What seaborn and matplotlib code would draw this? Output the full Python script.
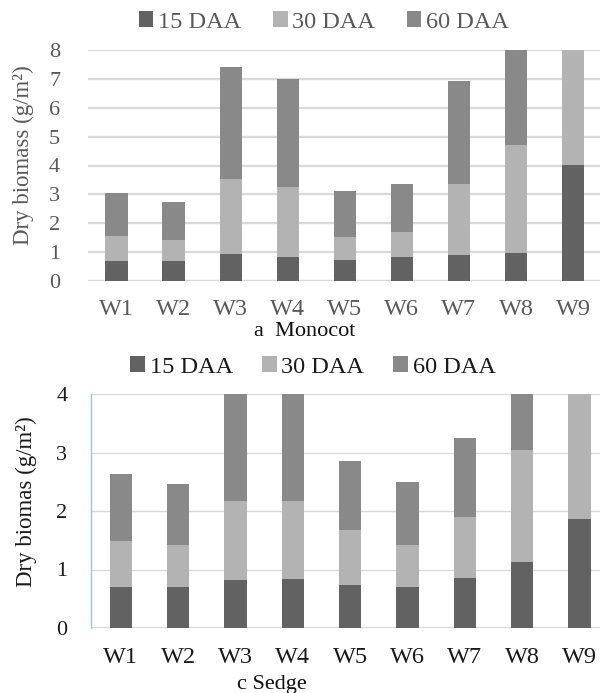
import numpy as np
import pandas as pd
import seaborn as sns
import matplotlib.pyplot as plt
from matplotlib.patches import Patch

# du lieu doc tu hinh
weeds = ["W1", "W2", "W3", "W4", "W5", "W6", "W7", "W8", "W9"]
stages = ["15 DAA", "30 DAA", "60 DAA"]

mono_15 = [0.70, 0.70, 0.92, 0.83, 0.74, 0.83, 0.89, 0.98, 4.03]
mono_30 = [0.85, 0.71, 2.61, 2.42, 0.77, 0.87, 2.48, 3.74, 4.40]
mono_60 = [1.50, 1.31, 3.87, 3.73, 1.59, 1.65, 3.56, 3.60, 1.50]

sedge_15 = [0.70, 0.70, 0.82, 0.84, 0.73, 0.70, 0.86, 1.13, 1.87]
sedge_30 = [0.78, 0.72, 1.35, 1.33, 0.94, 0.72, 1.03, 1.92, 2.40]
sedge_60 = [1.16, 1.05, 2.10, 2.00, 1.19, 1.07, 1.36, 1.10, 0.90]

colors = {"15 DAA": "#626262", "30 DAA": "#b3b3b3", "60 DAA": "#898989"}

sns.set_style("white")
plt.rcParams['font.family'] = ['Liberation Serif', 'DejaVu Serif']

fig = plt.figure(figsize=(6, 6.93), dpi=100)
W, H = 600, 693


def stacked(ax, v15, v30, v60):
    df = pd.DataFrame({"weed": weeds, "15 DAA": v15, "30 DAA": v30, "60 DAA": v60})
    df["c1"] = df["15 DAA"]
    df["c2"] = df["c1"] + df["30 DAA"]
    df["c3"] = df["c2"] + df["60 DAA"]
    # ve tu cot cao nhat xuong
    for col, st in [("c3", "60 DAA"), ("c2", "30 DAA"), ("c1", "15 DAA")]:
        sns.barplot(data=df, x="weed", y=col, color=colors[st], saturation=1,
                    width=0.39, ax=ax, linewidth=0)
    ax.set_xlabel("")


# 1. Monocot
ax1 = fig.add_axes([88 / W, (H - 281) / H, 512 / W, 231 / H])
stacked(ax1, mono_15, mono_30, mono_60)
ax1.set_ylim(0, 8)
ax1.set_xlim(-0.5, 8.47)
ax1.set_yticks(range(0, 9))
for y in range(0, 9):
    ax1.axhline(y, color="#d9d9d9", lw=1.6, zorder=0)
sns.despine(ax=ax1, left=True, bottom=True, top=True, right=True)
ax1.tick_params(axis="y", length=0, pad=20, labelsize=16, labelcolor="#595959")
ax1.tick_params(axis="x", length=0, pad=13, labelsize=17.5, labelcolor="#595959")
ax1.set_ylabel("Dry biomass (g/m²)", fontsize=16.5, color="#595959")
ax1.yaxis.set_label_coords(-54 / 512, (281 - 155) / 231)

# 2. Sedge
ax2 = fig.add_axes([91 / W, (H - 628) / H, 509 / W, 234 / H])
stacked(ax2, sedge_15, sedge_30, sedge_60)
ax2.set_ylim(0, 4)
ax2.set_xlim(-0.52, 8.36)
ax2.set_yticks(range(0, 5))
for y in range(1, 5):
    ax2.axhline(y, color="#d9d9d9", lw=1.0, zorder=0)
ax2.axhline(0, color="#d9d9d9", lw=1.6, zorder=0)
sns.despine(ax=ax2, left=False, bottom=True, top=True, right=True)
ax2.spines["left"].set_color("#9fc3e4")
ax2.spines["left"].set_linewidth(1.0)
ax2.tick_params(axis="y", length=0, pad=17, labelsize=16, labelcolor="#1a1a1a")
ax2.tick_params(axis="x", length=0, pad=14, labelsize=17.5, labelcolor="#1a1a1a")
ax2.set_ylabel("Dry biomas (g/m²)", fontsize=16.5, color="#1a1a1a")
ax2.yaxis.set_label_coords(-54 / 509, (628 - 502) / 234)

# legend
handles = [Patch(facecolor=colors[s], edgecolor="none", label=s) for s in stages]
fig.legend(handles=handles, loc="center", bbox_to_anchor=(324 / W, 1 - 22 / H),
           ncol=3, frameon=False, fontsize=17.5, handlelength=0.6, handleheight=0.6,
           handletextpad=0.2, columnspacing=1.3, labelcolor="#595959")
fig.legend(handles=handles, loc="center", bbox_to_anchor=(313 / W, 1 - 367 / H),
           ncol=3, frameon=False, fontsize=17.5, handlelength=0.6, handleheight=0.6,
           handletextpad=0.2, columnspacing=1.2, labelcolor="#1a1a1a")

fig.text(305 / W, 1 - 332 / H, "a  Monocot", ha="center", va="center", fontsize=16, color="#111111")
fig.text(272 / W, 1 - 684 / H, "c Sedge", ha="center", va="center", fontsize=16, color="#111111")

fig.savefig("out.png", dpi=100)
